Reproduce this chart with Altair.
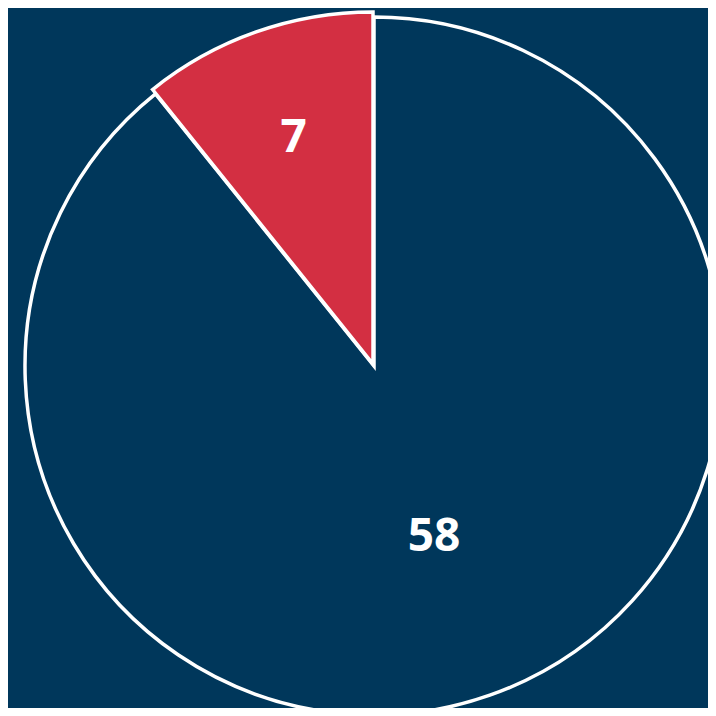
import altair as alt
import pandas as pd

categories = ["Other", "Selected"]
values = [58, 7]
order_idx = [0, 1]
label_radius = [181, 242]
colors = ["#00375B", "#D32F42"]
bg = "#00375B"

df = pd.DataFrame({
    "category": categories,
    "value": values,
    "idx": order_idx,
    "lr": label_radius,
})

theta = alt.Theta("value:Q", stack=True)
color = alt.Color("category:N", scale=alt.Scale(domain=categories, range=colors), legend=None)
order = alt.Order("idx:Q", sort="ascending")

cx, cy = 366, 358

navy = alt.Chart(df).mark_arc(stroke="white", strokeWidth=3.5, radius=349).encode(
    theta=theta, color=color, order=order,
    opacity=alt.condition(alt.datum.category == "Other", alt.value(1), alt.value(0)),
    x=alt.value(cx), y=alt.value(cy),
)
red = alt.Chart(df).mark_arc(stroke="white", strokeWidth=3.5, radius=352).encode(
    theta=theta, color=color, order=order,
    opacity=alt.condition(alt.datum.category == "Selected", alt.value(1), alt.value(0)),
    x=alt.value(cx - 1), y=alt.value(cy - 2),
)
text = alt.Chart(df).transform_window(
    cum="sum(value)", sort=[alt.SortField("idx", order="ascending")]
).transform_joinaggregate(
    total="sum(value)"
).transform_calculate(
    mid="2 * PI * (datum.cum - datum.value / 2) / datum.total"
).mark_text(
    font="Open Sans", fontWeight="bold", fontSize=46, color="white",
    align="center", baseline="middle",
).encode(
    theta=alt.Theta("mid:Q", scale=None, stack=False),
    radius=alt.Radius("lr:Q", scale=None),
    text=alt.Text("value:Q"),
    x=alt.value(cx), y=alt.value(cy),
)

chart = alt.layer(navy, red, text).properties(
    width=700, height=700, background=bg, padding=0,
    autosize=alt.AutoSizeParams(type="none"),
).configure_view(stroke=None)

chart.save("out.html", embed_options={"renderer": "svg", "actions": False})
